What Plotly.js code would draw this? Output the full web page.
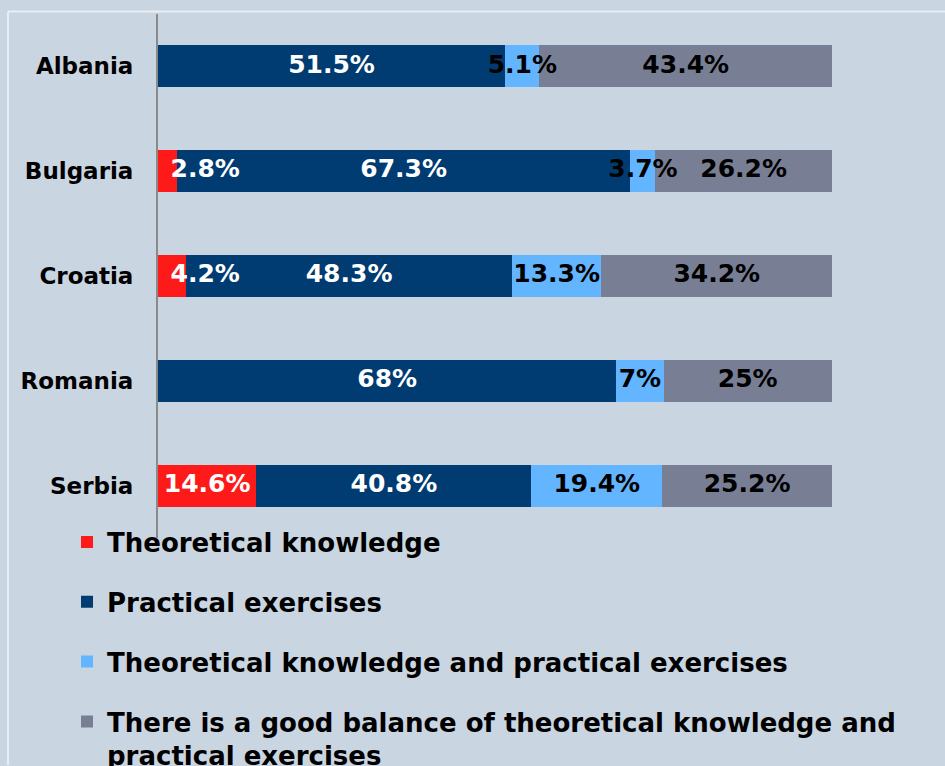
<!DOCTYPE html>
<html>
<head>
<meta charset="utf-8">
<script src="https://cdn.plot.ly/plotly-3.0.1.min.js"></script>
<style>html,body{margin:0;padding:0;background:#C9D5E1;}#chart{width:945px;height:766px;}</style>
</head>
<body>
<div id="chart"></div>
<script>
const countries = ['Albania', 'Bulgaria', 'Croatia', 'Romania', 'Serbia'];
const seriesNames = [
  'Theoretical knowledge',
  'Practical exercises',
  'Theoretical knowledge and practical exercises',
  'There is a good balance of theoretical knowledge and<br>practical exercises'
];
const theoretical = [0, 2.8, 4.2, 0, 14.6];
const practical = [51.5, 67.3, 48.3, 68, 40.8];
const both = [5.1, 3.7, 13.3, 7, 19.4];
const balance = [43.4, 26.2, 34.2, 25, 25.2];

const colors = ['#FF1A1A', '#003B71', '#63B5FF', '#787F94'];
const textColors = ['#FFFFFF', '#FFFFFF', '#000000', '#000000'];
const minLabelX = [7, 0, 0, 0];
const values = [theoretical, practical, both, balance];

const barTraces = values.map((vals, i) => ({
  type: 'bar',
  orientation: 'h',
  name: seriesNames[i],
  y: countries,
  x: vals,
  marker: {color: colors[i], line: {width: 0}},
  hoverinfo: 'skip',
  legendgroup: 'g' + i
}));

// label layer drawn above all bars, centred on each segment
const labelTraces = values.map((vals, i) => {
  const xs = vals.map((v, k) => {
    let base = 0;
    for (let j = 0; j < i; j++) base += values[j][k];
    return Math.max(base + v / 2, minLabelX[i]);
  });
  return {
    type: 'scatter',
    mode: 'text',
    y: countries,
    x: xs,
    text: vals.map(v => v ? v + '%' : ''),
    textposition: 'middle center',
    textfont: {family: 'DejaVu Sans', size: 25, color: textColors[i], weight: 'bold'},
    cliponaxis: false,
    hoverinfo: 'skip',
    showlegend: false
  };
});

const layout = {
  width: 945,
  height: 766,
  paper_bgcolor: '#C9D5E1',
  plot_bgcolor: '#C9D5E1',
  barmode: 'stack',
  bargap: 0.6,
  margin: {l: 158, r: 113, t: 13.5, b: 227.5, pad: 0, autoexpand: false},
  font: {family: 'DejaVu Sans', color: '#000000'},
  xaxis: {
    range: [0, 100],
    showgrid: false,
    zeroline: false,
    showticklabels: false,
    showline: false,
    fixedrange: true
  },
  yaxis: {
    type: 'category',
    categoryorder: 'array',
    categoryarray: countries,
    range: [4.5, -0.5],
    showgrid: false,
    zeroline: false,
    showline: true,
    linecolor: '#8A8A8A',
    linewidth: 2,
    ticks: 'outside',
    ticklen: 18,
    tickcolor: 'rgba(0,0,0,0)',
    tickfont: {family: 'DejaVu Sans', size: 23, color: '#000000', weight: 'bold'},
    fixedrange: true
  },
  legend: {
    orientation: 'v',
    x: -0.135,
    xanchor: 'left',
    y: 0.037,
    yanchor: 'top',
    traceorder: 'grouped',
    tracegroupgap: 23,
    valign: 'top',
    bgcolor: 'rgba(0,0,0,0)',
    font: {family: 'DejaVu Sans', size: 26, color: '#000000', weight: 'bold'}
  },
  shapes: [
    {type: 'line', xref: 'paper', yref: 'paper', x0: (8 - 158) / 674, x1: (945 - 158) / 674, y0: (538.5 - 11) / 525, y1: (538.5 - 11) / 525, line: {color: '#E8EEF4', width: 2}},
    {type: 'line', xref: 'paper', yref: 'paper', x0: (8 - 158) / 674, x1: (8 - 158) / 674, y0: (538.5 - 11) / 525, y1: (538.5 - 766) / 525, line: {color: '#E8EEF4', width: 2}}
  ],
  showlegend: true
};

Plotly.newPlot('chart', barTraces.concat(labelTraces), layout, {displayModeBar: false, staticPlot: true});
</script>
</body>
</html>
